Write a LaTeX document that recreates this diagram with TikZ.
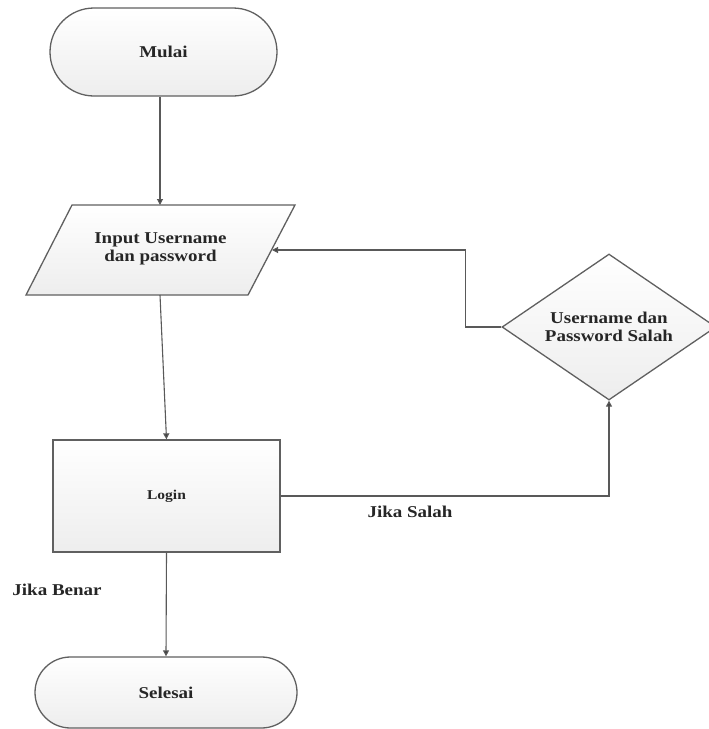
\documentclass[tikz,border=0pt]{standalone}
\usepackage{fontspec}
\setmainfont{Liberation Serif}[FakeStretch=1.15]
\usetikzlibrary{shapes.geometric,arrows.meta}

\tikzset{
  shapeline/.style={draw=gray!75!black, line width=1.3pt, top color=white, bottom color=gray!14},
  terminal/.style={shapeline, rectangle, rounded corners=#1, inner sep=0pt},
  procbox/.style={shapeline, rectangle, minimum width=227pt, minimum height=112pt, inner sep=0pt},
  decision/.style={shapeline, diamond, minimum width=214pt, minimum height=146pt, aspect=1.47, inner sep=0pt},
  lbl/.style={font=\fontsize{16.5}{18.5}\selectfont\bfseries, text=black!85, align=center},
  flow/.style={draw=gray!70!black, line width=1.1pt, -{Triangle[length=6pt,width=6pt,fill=black!75]}},
  plainflow/.style={draw=gray!70!black, line width=1.1pt}
}

\begin{document}
\begin{tikzpicture}[x=1pt,y=-1pt]
  \useasboundingbox (0,0) rectangle (709,729);
  \clip (0,0) rectangle (709,729);
  \fill[white] (0,0) rectangle (709,729);

  % start terminal
  \node[terminal=44pt, minimum width=227pt, minimum height=88pt, lbl] (mulai) at (163.5,52) {Mulai};

  % input parallelogram
  \path[shapeline] (72,205) -- (295,205) -- (248,295) -- (26,295) -- cycle;
  \node[lbl] (inp) at (160.5,249) {Input Username\\dan password};
  \coordinate (inpN) at (160,205);
  \coordinate (inpS) at (160,295);
  \coordinate (inpE) at (272,250);

  % login process
  \node[procbox, font=\fontsize{13.5}{15}\selectfont\bfseries, text=black!85] (login) at (166.5,496) {Login};

  % decision
  \node[decision, lbl] (dia) at (609,327) {Username dan\\Password Salah};

  % end terminal
  \node[terminal=35.5pt, minimum width=262pt, minimum height=71pt, lbl] (selesai) at (166,692.5) {Selesai};

  % connectors
  \draw[flow] (mulai.south -| inpN) -- (inpN);
  \draw[flow] (inpS) -- (login.north);
  \draw[flow] (login.south) -- (selesai.north);
  \draw[flow] (login.east) -| (dia.south);
  \draw[flow] (dia.west) -- ++(-36,0) |- (inpE);

  % branch labels
  \node[lbl] (salah) at (410,512) {Jika Salah};
  \node[lbl] (benar) at (57,590) {Jika Benar};
\end{tikzpicture}
\end{document}
